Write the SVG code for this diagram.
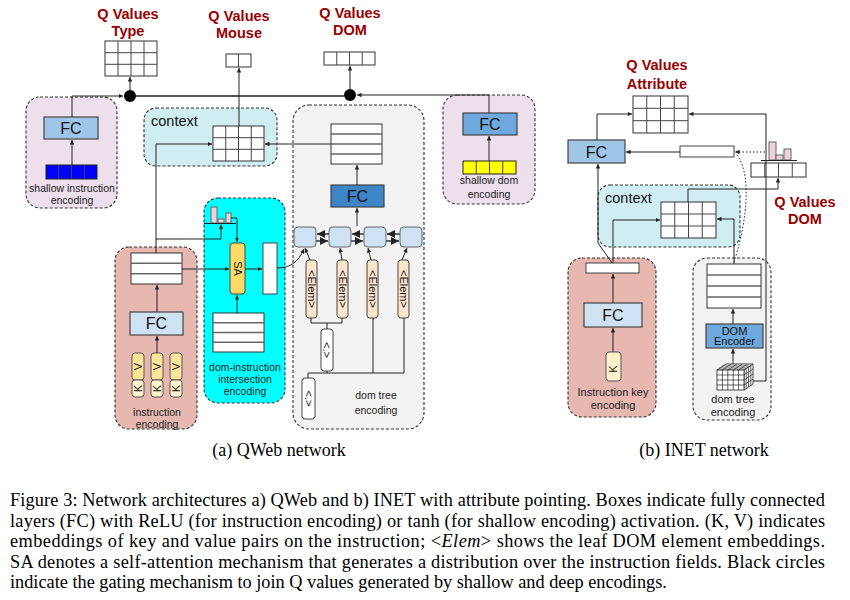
<svg xmlns="http://www.w3.org/2000/svg" width="850" height="600" viewBox="0 0 850 600">
<defs>
<marker id="ah" viewBox="0 0 6 6" refX="6" refY="3" markerWidth="4.5" markerHeight="4.5" orient="auto"><path d="M0,0 L6,3 L0,6 z" fill="#222"/></marker>
<style>
.q{font:bold 14.5px "Liberation Sans",Arial,sans-serif;fill:#990000;text-anchor:middle}
.lb{font:10.5px "Liberation Sans",Arial,sans-serif;fill:#222;text-anchor:middle}
.lb11{font:11px "Liberation Sans",Arial,sans-serif;fill:#222;text-anchor:middle}
.fct{font:16px "Liberation Sans",Arial,sans-serif;fill:#111;text-anchor:middle}
.ctx{font:14.5px "Liberation Sans",Arial,sans-serif;fill:#111}
.rot{font:11px "Liberation Sans",Arial,sans-serif;fill:#111;text-anchor:middle}
.cap{font:18.3px "Liberation Serif","Times New Roman",serif;fill:#000}
.sub{font:18px "Liberation Serif","Times New Roman",serif;fill:#000;text-anchor:middle}
.dash{stroke:#333;stroke-width:1.1;stroke-dasharray:3,2}
.grid{fill:#fff;stroke:#333;stroke-width:1}
.gl{stroke:#444;stroke-width:1;fill:none}
.rl{stroke:#666;stroke-width:1.6;fill:none}
.ln{fill:none;stroke:#222;stroke-width:1}
.gln{fill:none;stroke:#555;stroke-width:1.8}
.box{stroke:#444;stroke-width:1.2}
</style>
</defs>
<rect width="850" height="600" fill="#fff"/>

<!-- ===== QWeb ===== -->
<g id="qv-type">
<text class="q" x="128" y="19">Q Values</text>
<text class="q" x="128" y="36">Type</text>
<rect class="grid" x="105" y="41" width="52" height="35"/>
<path class="gl" d="M118,41V76M131,41V76M144,41V76M105,52.7H157M105,64.3H157"/>
</g>
<g id="qv-mouse">
<text class="q" x="239" y="21">Q Values</text>
<text class="q" x="239" y="38">Mouse</text>
<rect class="grid" x="226" y="54" width="25" height="13"/>
<path class="gl" d="M238.5,54V67"/>
</g>
<g id="qv-dom">
<text class="q" x="350" y="18">Q Values</text>
<text class="q" x="350" y="35">DOM</text>
<rect class="grid" x="324" y="52" width="51" height="13"/>
<path class="gl" d="M336.75,52V65M349.5,52V65M362.25,52V65"/>
</g>
<g id="gate-type"><circle cx="130" cy="96" r="6" fill="#000"/></g>
<g id="gate-dom"><circle cx="350" cy="95" r="6" fill="#000"/></g>

<g id="shallow-instr">
<rect class="dash" x="26" y="97" width="91" height="111" rx="14" fill="#eddfec"/>
<rect class="box" x="44" y="117" width="54" height="22" fill="#9fc5e8"/>
<text class="fct" x="71" y="134">FC</text>
<rect x="46" y="165" width="51" height="14" fill="#0000ff" stroke="#222"/>
<path class="gl" d="M58.75,165V179M71.5,165V179M84.25,165V179"/>
<text class="lb" x="72" y="192">shallow instruction</text>
<text class="lb" x="72" y="204">encoding</text>
</g>

<g id="shallow-dom">
<rect class="dash" x="443" y="95" width="92" height="109" rx="14" fill="#eddfec"/>
<rect class="box" x="463" y="113" width="54" height="22" fill="#6fa8dc"/>
<text class="fct" x="490" y="130">FC</text>
<rect x="463" y="161" width="53" height="13" fill="#ffff00" stroke="#222"/>
<path class="gl" d="M476.25,161V174M489.5,161V174M502.75,161V174"/>
<text class="lb" x="489" y="184">shallow dom</text>
<text class="lb" x="489" y="198">encoding</text>
</g>

<g id="context">
<rect class="dash" x="144" y="108" width="133" height="58" rx="12" fill="#d0edf1"/>
<text class="ctx" x="151" y="126">context</text>
<rect class="grid" x="213" y="126" width="51" height="35"/>
<path class="gl" d="M225.75,126V161M238.5,126V161M251.25,126V161M213,137.7H264M213,149.3H264"/>
</g>

<g id="dom-tree">
<rect class="dash" x="293" y="105" width="131" height="324" rx="16" fill="#f3f3f3"/>
<rect class="grid" x="331" y="124" width="51" height="40"/>
<path class="rl" d="M331,134H382M331,144H382M331,154H382"/>
<rect class="box" x="331" y="185" width="53" height="22" fill="#3d85c6"/>
<text class="fct" x="357.5" y="202">FC</text>
<g fill="#cfe2f3" stroke="#666" stroke-width="1">
<rect x="294" y="227" width="22" height="20" rx="4"/>
<rect x="329" y="227" width="22" height="20" rx="4"/>
<rect x="364" y="227" width="22" height="20" rx="4"/>
<rect x="400" y="227" width="22" height="20" rx="4"/>
</g>
<g fill="#fce5cd" stroke="#444" stroke-width="1">
<rect x="306" y="260" width="11" height="58" rx="3"/>
<rect x="337" y="260" width="11" height="58" rx="3"/>
<rect x="367" y="260" width="11" height="58" rx="3"/>
<rect x="398" y="260" width="11" height="58" rx="3"/>
</g>
<text class="rot" transform="translate(311.5,289) rotate(90)" dy="0.36em">&lt;Elem&gt;</text>
<text class="rot" transform="translate(342.5,289) rotate(90)" dy="0.36em">&lt;Elem&gt;</text>
<text class="rot" transform="translate(372.5,289) rotate(90)" dy="0.36em">&lt;Elem&gt;</text>
<text class="rot" transform="translate(403.5,289) rotate(90)" dy="0.36em">&lt;Elem&gt;</text>
<rect x="321" y="329" width="12" height="42" rx="3" fill="#fff" stroke="#444"/>
<text class="rot" transform="translate(327,350) rotate(90)" dy="0.36em">&lt;.&gt;</text>
<rect x="302" y="378" width="13" height="41" rx="3" fill="#fff" stroke="#444"/>
<text class="rot" transform="translate(308.5,398.5) rotate(90)" dy="0.36em">&lt;.&gt;</text>
<text class="lb" x="376" y="399">dom tree</text>
<text class="lb" x="376" y="414">encoding</text>
</g>

<g id="instr-enc">
<rect class="dash" x="115" y="247" width="82" height="182" rx="14" fill="#e6b8af"/>
<rect class="grid" x="131" y="253" width="51" height="31"/>
<path class="rl" d="M131,263.3H182M131,273.7H182"/>
<rect class="box" x="130" y="312" width="53" height="23" fill="#cfe2f3"/>
<text class="fct" x="156.5" y="329">FC</text>
<g stroke="#555" stroke-width="1">
<rect x="132" y="353" width="12" height="27" rx="3" fill="#ffe599"/>
<rect x="132" y="380" width="12" height="17" rx="3" fill="#fff2cc"/>
<rect x="151" y="353" width="12" height="27" rx="3" fill="#ffe599"/>
<rect x="151" y="380" width="12" height="17" rx="3" fill="#fff2cc"/>
<rect x="170" y="353" width="12" height="27" rx="3" fill="#ffe599"/>
<rect x="170" y="380" width="12" height="17" rx="3" fill="#fff2cc"/>
</g>
<text class="rot" font-size="13" transform="translate(138,366.5) rotate(-90)" dy="0.36em">V</text>
<text class="rot" font-size="13" transform="translate(157,366.5) rotate(-90)" dy="0.36em">V</text>
<text class="rot" font-size="13" transform="translate(176,366.5) rotate(-90)" dy="0.36em">V</text>
<text class="rot" font-size="13" transform="translate(138,388.5) rotate(-90)" dy="0.36em">K</text>
<text class="rot" font-size="13" transform="translate(157,388.5) rotate(-90)" dy="0.36em">K</text>
<text class="rot" font-size="13" transform="translate(176,388.5) rotate(-90)" dy="0.36em">K</text>
<text class="lb" x="157" y="416">instruction</text>
<text class="lb" x="157" y="428">encoding</text>
</g>

<g id="intersection">
<rect class="dash" x="204" y="198" width="81" height="205" rx="14" fill="#00ffff"/>
<g fill="#ead1dc" stroke="#666" stroke-width="1">
<rect x="211" y="207" width="6" height="16"/>
<rect x="218" y="219" width="6" height="4"/>
<rect x="226" y="213" width="5" height="10"/>
</g>
<path d="M204,223.5H236" stroke="#222" stroke-width="1"/>
<rect x="230" y="243" width="15" height="51" rx="3" fill="#ffd966" stroke="#444"/>
<text class="rot" font-size="16" transform="translate(237.5,268.5) rotate(90)" dy="0.36em">SA</text>
<rect x="263" y="243" width="14" height="51" fill="#fff" stroke="#444"/>
<rect class="grid" x="213" y="313" width="51" height="39"/>
<path class="rl" d="M213,322.75H264M213,332.5H264M213,342.25H264"/>
<text class="lb" x="245" y="371">dom-instruction</text>
<text class="lb" x="245" y="383">intersection</text>
<text class="lb" x="245" y="395">encoding</text>
</g>

<!-- ===== INET ===== -->
<g id="qv-attr">
<text class="q" x="657" y="70">Q Values</text>
<text class="q" x="657" y="89">Attribute</text>
<rect class="grid" x="633" y="96" width="55" height="37"/>
<path class="gl" d="M646.75,96V133M660.5,96V133M674.25,96V133M633,108.3H688M633,120.7H688"/>
</g>
<g id="inet-fc">
<rect class="box" x="568" y="140" width="57" height="23" fill="#9fc5e8"/>
<text class="fct" x="596.5" y="157.5">FC</text>
</g>
<g id="inet-bar"><rect x="680" y="146" width="54" height="11" fill="#fff" stroke="#444"/></g>
<g id="inet-qdom">
<g fill="#ead1dc" stroke="#666" stroke-width="1">
<rect x="769" y="142" width="7" height="18"/>
<rect x="776" y="155" width="7" height="5"/>
<rect x="784" y="149" width="7" height="11"/>
</g>
<path d="M761,160.5H797" stroke="#222" stroke-width="1"/>
<rect class="grid" x="751" y="163" width="55" height="14"/>
<path class="gl" d="M764.75,163V177M778.5,163V177M792.25,163V177"/>
<text class="q" x="805" y="207">Q Values</text>
<text class="q" x="805" y="224">DOM</text>
</g>
<g id="inet-context">
<rect class="dash" x="598" y="185" width="142" height="62" rx="12" fill="#d0edf1"/>
<text class="ctx" x="605" y="203">context</text>
<rect class="grid" x="661" y="202" width="55" height="36"/>
<path class="gl" d="M674.75,202V238M688.5,202V238M702.25,202V238M661,214H716M661,226H716"/>
</g>
<g id="inet-instr">
<rect class="dash" x="568" y="258" width="88" height="159" rx="14" fill="#e6b8af"/>
<rect x="586" y="263" width="53" height="10" fill="#fff" stroke="#444"/>
<rect class="box" x="584" y="303" width="58" height="24" fill="#cfe2f3"/>
<text class="fct" x="613" y="320.5">FC</text>
<rect x="606" y="352" width="15" height="29" rx="3" fill="#fff2cc" stroke="#555"/>
<text class="rot" font-size="13" transform="translate(613.5,369) rotate(-90)" dy="0.36em">K</text>
<text class="lb11" x="613" y="396">Instruction key</text>
<text class="lb11" x="613" y="409">encoding</text>
</g>
<g id="inet-dom">
<rect class="dash" x="693" y="258" width="78" height="162" rx="14" fill="#f3f3f3"/>
<rect class="grid" x="707" y="264" width="54" height="44"/>
<path class="rl" d="M707,275H761M707,286H761M707,297H761"/>
<rect class="box" x="706" y="324" width="57" height="24" fill="#6fa8dc"/>
<text class="rot" font-size="9" x="734.5" y="334.5">DOM</text>
<text class="rot" font-size="9" x="734.5" y="345">Encoder</text>
<g stroke="#222" stroke-width="0.8" fill="#fff">
<path d="M717,370L726,364H753L744,370Z"/>
<path d="M744,370L753,364V384L744,390Z"/>
<rect x="717" y="370" width="27" height="20"/>
</g>
<path d="M722.4,370V390M727.8,370V390M733.2,370V390M738.6,370V390M717,375H744M717,380H744M717,385H744M722.4,370L731.4,364M727.8,370L736.8,364M733.2,370L742.2,364M738.6,370L747.6,364M719.5,368H746.5M722,366H749M744,375L753,369M744,380L753,374M744,385L753,379M746.2,368.5V388.5M748.5,367V387M750.8,365.5V385.5" stroke="#222" stroke-width="0.7" fill="none"/>
<text class="lb11" x="733" y="403">dom tree</text>
<text class="lb11" x="733" y="416">encoding</text>
</g>

<!-- ===== connectors ===== -->
<g id="connectors">
<path class="ln" d="M72,117V96H123" marker-end="url(#ah)"/>
<path class="ln" d="M72,165V140" marker-end="url(#ah)"/>
<path class="ln" d="M130,90V77" marker-end="url(#ah)"/>
<path class="gln" d="M136,96H344"/>
<path class="ln" d="M489,113V95H357" marker-end="url(#ah)"/>
<path class="ln" d="M489,161V136" marker-end="url(#ah)"/>
<path class="ln" d="M350,89V66" marker-end="url(#ah)"/>
<path class="ln" d="M239,126V68" marker-end="url(#ah)"/>
<path class="ln" d="M156,253V144H212" marker-end="url(#ah)"/>
<path class="ln" d="M156,239H221V224.5" marker-end="url(#ah)"/>
<path class="ln" d="M331,144H265" marker-end="url(#ah)"/>
<path class="ln" d="M357,185V165" marker-end="url(#ah)"/>
<path class="ln" d="M357,226V208" marker-end="url(#ah)"/>
<g class="gln" stroke-width="1.6">
<path d="M316,241H328" marker-end="url(#ah)"/><path d="M329,234H317" marker-end="url(#ah)"/>
<path d="M351,241H363" marker-end="url(#ah)"/><path d="M364,234H352" marker-end="url(#ah)"/>
<path d="M386,241H399" marker-end="url(#ah)"/><path d="M400,234H387" marker-end="url(#ah)"/>
</g>
<path class="ln" d="M310,260L305,248" marker-end="url(#ah)"/>
<path class="ln" d="M342,260L340,248" marker-end="url(#ah)"/>
<path class="ln" d="M371,260L368,248" marker-end="url(#ah)"/>
<path class="ln" d="M402,260L407,248" marker-end="url(#ah)"/>
<path class="ln" d="M311,318V323H342V318M327,323V329M327,371V373M308,378V373H404V318M373,373V318"/>
<path class="ln" d="M277,268C291,268 298,262 304,249" marker-end="url(#ah)"/>
<path class="ln" d="M182,269H229" marker-end="url(#ah)"/>
<path class="ln" d="M245,269H262" marker-end="url(#ah)"/>
<path class="ln" d="M231,218H237V242" marker-end="url(#ah)"/>
<path class="ln" d="M237,313V295" marker-end="url(#ah)"/>
<path class="ln" d="M157,312V285" marker-end="url(#ah)"/>
<path class="ln" d="M157,353V336" marker-end="url(#ah)"/>
<!-- INET -->
<path class="ln" d="M597,140V114H632" marker-end="url(#ah)"/>
<path class="ln" d="M753,381H766V114H689" marker-end="url(#ah)"/>
<path class="ln" d="M680,152H626" marker-end="url(#ah)"/>
<path class="ln" d="M765,152H735" stroke-dasharray="1.5,2" marker-end="url(#ah)"/>
<path class="ln" d="M734,262C744,232 754,178 737,155" stroke-dasharray="1.5,2"/>
<path class="ln" d="M612,263L598,243V164" marker-end="url(#ah)"/>
<path class="ln" d="M613,263V220H660" marker-end="url(#ah)"/>
<path class="ln" d="M734,264V219H717" marker-end="url(#ah)"/>
<path class="ln" d="M688,202V189H778V178" marker-end="url(#ah)"/>
<path class="ln" d="M613,303V274" marker-end="url(#ah)"/>
<path class="ln" d="M613,352V328" marker-end="url(#ah)"/>
<path class="ln" d="M733,324V309" marker-end="url(#ah)"/>
<path class="ln" d="M733,364V349" marker-end="url(#ah)"/>
</g>

<text class="sub" x="279" y="456">(a) QWeb network</text>
<text class="sub" x="704" y="456">(b) INET network</text>

<g id="caption">
<text class="cap" x="10" y="506" textLength="815" lengthAdjust="spacing">Figure 3: Network architectures a) QWeb and b) INET with attribute pointing. Boxes indicate fully connected</text>
<text class="cap" x="10" y="527" textLength="815" lengthAdjust="spacing">layers (FC) with ReLU (for instruction encoding) or tanh (for shallow encoding) activation.  (K, V) indicates</text>
<text class="cap" x="10" y="547" textLength="815" lengthAdjust="spacing">embeddings of key and value pairs on the instruction; &lt;<tspan font-style="italic">Elem</tspan>&gt; shows the leaf DOM element embeddings.</text>
<text class="cap" x="10" y="568" textLength="815" lengthAdjust="spacing">SA denotes a self-attention mechanism that generates a distribution over the instruction fields.  Black circles</text>
<text class="cap" x="10" y="588">indicate the gating mechanism to join Q values generated by shallow and deep encodings.</text>
</g>
</svg>
